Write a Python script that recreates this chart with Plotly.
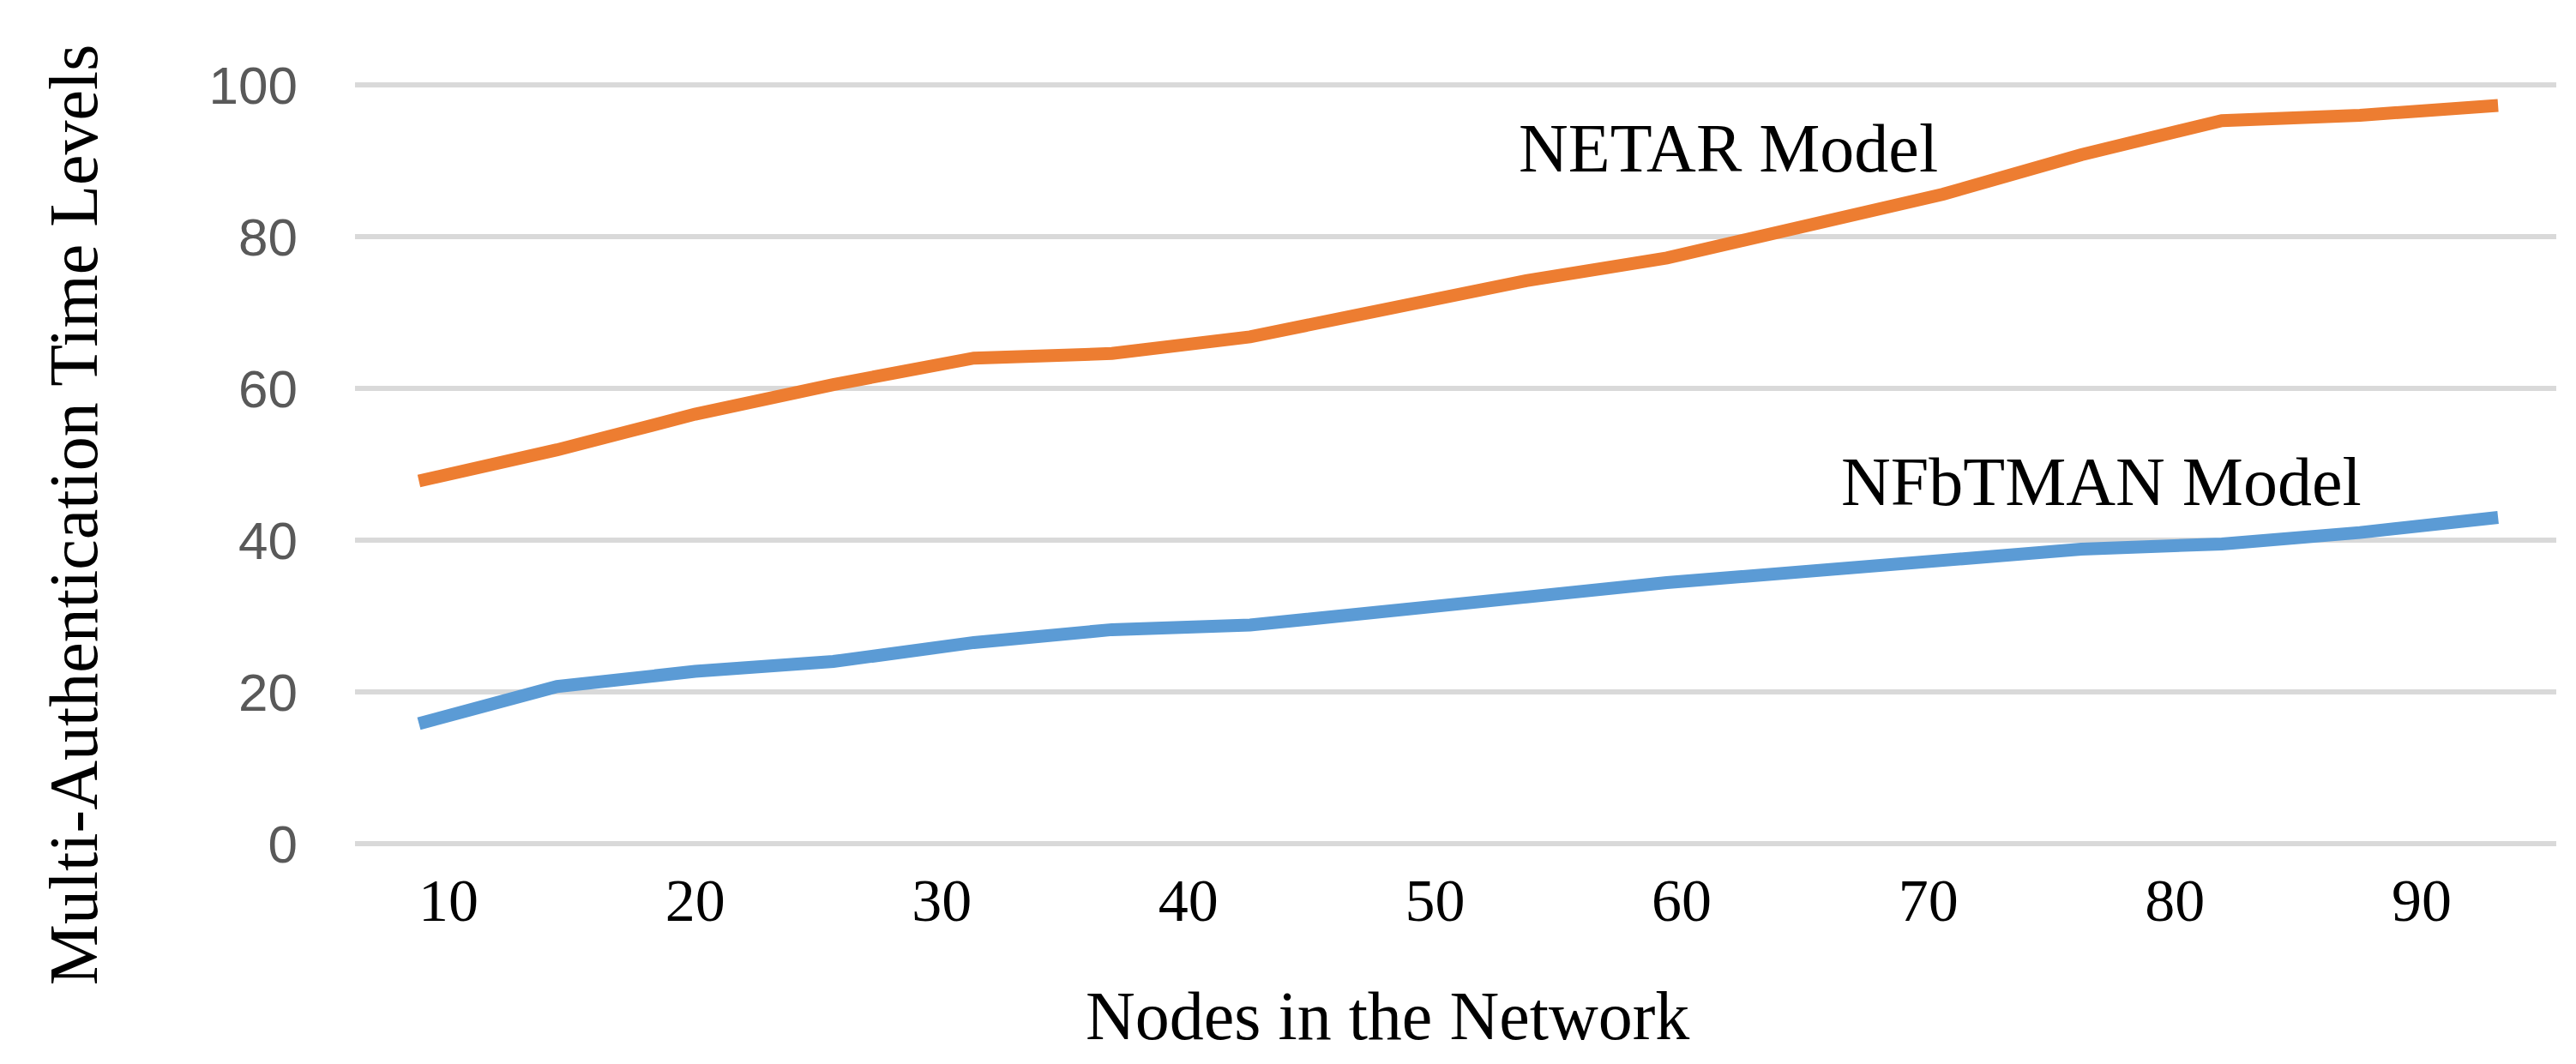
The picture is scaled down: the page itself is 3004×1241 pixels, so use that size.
import plotly.graph_objects as go

# nodes (x positions) and the two series
nodes = [8.8, 14.4, 20.0, 25.6, 31.3, 36.9, 42.5, 48.1,
         53.7, 59.4, 65.0, 70.6, 76.2, 81.9, 87.5, 93.1]
netar = [47.8, 51.9, 56.6, 60.5, 64.0, 64.6, 66.8, 70.3,
         74.2, 77.2, 81.2, 85.6, 90.8, 95.3, 96.0, 97.3]
nfbtman = [15.8, 20.7, 22.7, 24.0, 26.5, 28.2, 28.8, 30.8,
           32.5, 34.4, 36.0, 37.4, 38.8, 39.5, 41.0, 43.0]

x_ticks = [10, 20, 30, 40, 50, 60, 70, 80, 90]
y_ticks = [0, 20, 40, 60, 80, 100]

ORANGE = "#ED7D31"
BLUE = "#5B9BD5"
GRID = "#D9D9D9"
TICK_GREY = "#595959"
SERIF = "Liberation Serif, Times New Roman, serif"
SANS = "Liberation Sans, Arial, sans-serif"

fig = go.Figure()

fig.add_trace(go.Scatter(
    x=nodes, y=netar, mode="lines",
    line=dict(color=ORANGE, width=15),
    name="NETAR Model", showlegend=False,
))
fig.add_trace(go.Scatter(
    x=nodes, y=nfbtman, mode="lines",
    line=dict(color=BLUE, width=15),
    name="NFbTMAN Model", showlegend=False,
))

# series labels inside the plot
fig.add_annotation(x=61.9, y=91.6, text="NETAR Model", showarrow=False,
                   font=dict(family=SERIF, size=80, color="black"))
fig.add_annotation(x=77.0, y=47.7, text="NFbTMAN Model", showarrow=False,
                   font=dict(family=SERIF, size=80, color="black"))

# axis titles
fig.add_annotation(xref="paper", yref="paper", x=0.469, y=-0.222,
                   xanchor="center", yanchor="middle",
                   text="Nodes in the Network", showarrow=False,
                   font=dict(family=SERIF, size=80, color="black"))
fig.add_annotation(xref="paper", yref="paper", x=-0.1278, y=0.434,
                   xanchor="center", yanchor="middle",
                   text="Multi-Authentication Time Levels", showarrow=False,
                   textangle=-90,
                   font=dict(family=SERIF, size=80, color="black"))

fig.update_layout(
    width=3004,
    height=1241,
    plot_bgcolor="white",
    paper_bgcolor="white",
    margin=dict(l=406, r=31, t=88, b=262),
    showlegend=False,
    xaxis=dict(
        range=[6.21, 95.46],
        tickvals=x_ticks,
        ticktext=[str(v) for v in x_ticks],
        showgrid=False,
        zeroline=False,
        showline=False,
        ticks="",
        ticklabelstandoff=16,
        tickfont=dict(family=SERIF, size=70, color="black"),
    ),
    yaxis=dict(
        range=[-0.35, 100.35],
        tickvals=y_ticks,
        showgrid=True,
        gridcolor=GRID,
        gridwidth=6,
        zeroline=False,
        showline=False,
        ticks="",
        ticklabelstandoff=66,
        tickfont=dict(family=SANS, size=62, color=TICK_GREY),
    ),
)

fig.write_html("out.html")
